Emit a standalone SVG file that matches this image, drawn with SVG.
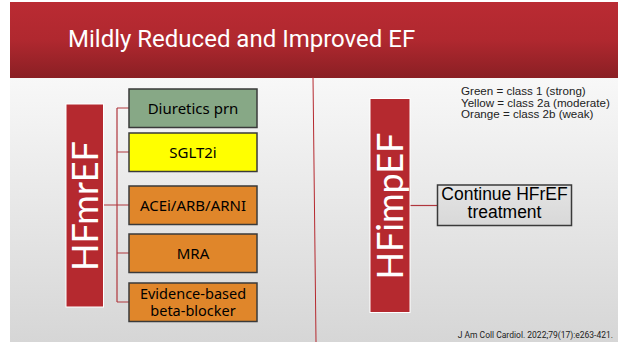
<svg xmlns="http://www.w3.org/2000/svg" width="618" height="342" viewBox="0 0 618 342">
<defs>
<linearGradient id="bg" x1="0" y1="0" x2="0" y2="1">
<stop offset="0" stop-color="#f8f8f8"/>
<stop offset="1" stop-color="#d6d6d6"/>
</linearGradient>
<linearGradient id="ban" x1="0" y1="0" x2="0" y2="1">
<stop offset="0" stop-color="#ba2b33"/>
<stop offset="0.5" stop-color="#b0282f"/>
<stop offset="1" stop-color="#8a1f24"/>
</linearGradient>
<linearGradient id="gray" x1="0" y1="0" x2="0" y2="1">
<stop offset="0" stop-color="#e4e4e4"/>
<stop offset="1" stop-color="#d8d8d8"/>
</linearGradient>
</defs>
<style>
.bx{stroke:#3a3a3a;stroke-width:1.5}
.bt{font-family:"Noto Sans","Liberation Sans",sans-serif;font-size:15px;fill:#000;text-anchor:middle}
.bt2{font-family:"Noto Sans","Liberation Sans",sans-serif;font-size:14.5px;fill:#000;text-anchor:middle}
.ct{font-family:"Liberation Sans",Arial,sans-serif;font-size:17.5px;fill:#000;text-anchor:middle}
.big{font-family:Lato,"Open Sans",sans-serif;font-size:36px;fill:#fff;text-anchor:middle}
.side{fill:#b5292f;stroke:#fff;stroke-width:1}
.leg{font-family:"Liberation Sans",Arial,sans-serif;font-size:11.6px;fill:#222}
.cn{stroke:#b0363d;stroke-width:1.2;fill:none}
</style>
<rect x="0" y="0" width="618" height="342" fill="#fff"/>
<rect x="10" y="77" width="608" height="265" fill="url(#bg)"/>
<rect x="10" y="2" width="608" height="76" fill="url(#ban)"/>
<text x="68" y="47" font-family="Roboto,'Liberation Sans',sans-serif" font-size="24" fill="#fff">Mildly Reduced and Improved EF</text>
<line x1="313" y1="77" x2="316" y2="342" stroke="#b5292f" stroke-width="1"/>

<g id="connectors">
<path class="cn" d="M103 205H117M117 108V302M117 108H129M117 152H129M117 205H129M117 253H129M117 302H129"/>
<path class="cn" d="M410 205.5H437"/>
</g>

<g id="hfmref">
<rect class="side" x="66" y="104" width="37.5" height="203"/>
<text class="big" transform="translate(97.5 206) rotate(-90)">HFmrEF</text>
</g>
<g id="diuretics">
<rect class="bx" x="129" y="89" width="128" height="38.5" fill="#87a886"/>
<text class="bt" x="193" y="113.5">Diuretics prn</text>
</g>
<g id="sglt2i">
<rect class="bx" x="129" y="133" width="128" height="38.5" fill="#ffff00"/>
<text class="bt" x="193" y="157.5">SGLT2i</text>
</g>
<g id="acei">
<rect class="bx" x="129" y="186" width="128" height="38.5" fill="#e0862a"/>
<text class="bt" x="193" y="210.5">ACEi/ARB/ARNI</text>
</g>
<g id="mra">
<rect class="bx" x="129" y="234" width="128" height="38.5" fill="#e0862a"/>
<text class="bt" x="193" y="258.5">MRA</text>
</g>
<g id="bb">
<rect class="bx" x="129" y="283" width="128" height="38.5" fill="#e0862a"/>
<text class="bt2" x="193" y="299">Evidence-based</text>
<text class="bt2" x="193" y="316">beta-blocker</text>
</g>

<g id="hfimpef">
<rect class="side" x="370" y="98.5" width="40" height="214"/>
<text class="big" transform="translate(402.5 206) rotate(-90)">HFimpEF</text>
</g>
<g id="continue">
<rect class="bx" x="437.5" y="185" width="134" height="40.5" fill="url(#gray)"/>
<text class="ct" x="504.5" y="200">Continue HFrEF</text>
<text class="ct" x="504.5" y="217.5">treatment</text>
</g>

<g id="legend">
<text class="leg" x="461" y="95">Green = class 1 (strong)</text>
<text class="leg" x="461" y="106.5">Yellow = class 2a (moderate)</text>
<text class="leg" x="461" y="118">Orange = class 2b (weak)</text>
</g>
<text x="613" y="338" font-family="Roboto,'Liberation Sans',sans-serif" font-size="8.5" fill="#222" text-anchor="end">J Am Coll Cardiol. 2022;79(17):e263-421.</text>
</svg>
